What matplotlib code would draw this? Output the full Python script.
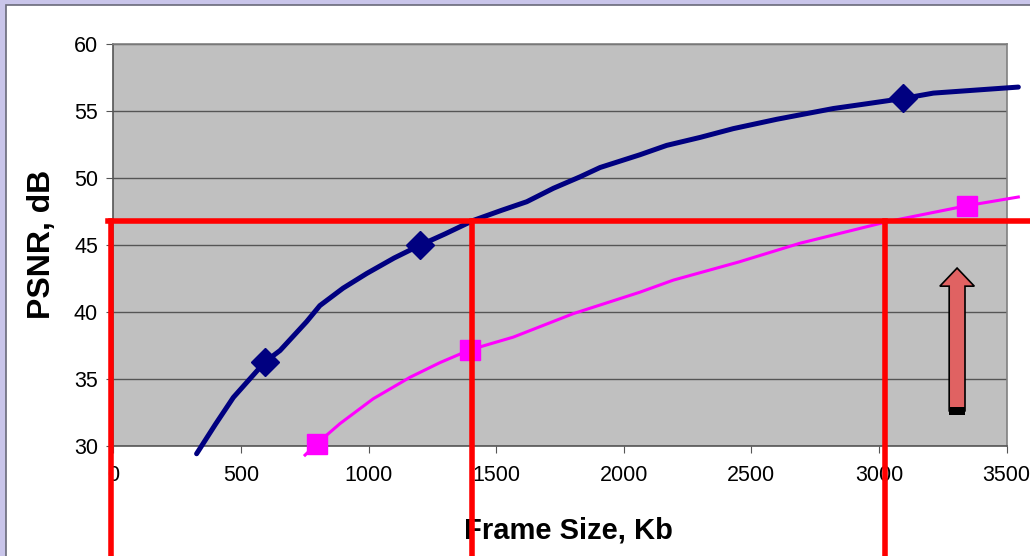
import matplotlib
matplotlib.use("Agg")
import matplotlib.pyplot as plt
from matplotlib.patches import Rectangle, FancyArrow

plt.rcParams['font.family'] = ['Liberation Sans', 'DejaVu Sans']

# Blue series (diamond markers) - frame size (Kb) vs PSNR (dB)
blue_x = [326, 400, 470, 594, 653, 757, 809, 900, 993, 1100, 1201, 1300, 1410, 1520, 1620,
          1724, 1828, 1907, 2063, 2168, 2300, 2429, 2600, 2821, 2950, 3095, 3213, 3546]
blue_y = [29.4, 31.6, 33.6, 36.25, 37.1, 39.25, 40.45, 41.75, 42.85, 44.0, 44.95, 45.8, 46.8, 47.55, 48.2,
          49.2, 50.05, 50.75, 51.7, 52.4, 53.0, 53.65, 54.35, 55.15, 55.5, 55.9, 56.3, 56.75]
blue_mark_x = [594, 1201, 3095]
blue_mark_y = [36.25, 44.95, 55.9]

# Magenta series (square markers)
mag_x = [751, 797, 888, 1018, 1162, 1280, 1397, 1567, 1802, 2063, 2194, 2450, 2690, 3030, 3344, 3546]
mag_y = [29.3, 30.15, 31.65, 33.5, 35.1, 36.2, 37.15, 38.1, 39.85, 41.45, 42.35, 43.7, 45.1, 46.7, 47.9, 48.55]
mag_mark_x = [797, 1397, 3344]
mag_mark_y = [30.15, 37.15, 47.9]

# Red reference lines
ref_psnr = 46.75
ref_x = [-9, 1405, 3023]

x_ticks = [0, 500, 1000, 1500, 2000, 2500, 3000, 3500]
y_ticks = [30, 35, 40, 45, 50, 55, 60]

fig = plt.figure(figsize=(10.3, 5.56), dpi=100)
fig.patch.set_facecolor('#c9c5ea')
fig.patches.append(Rectangle((6/1030, -0.01), 1.0, 1 - 5/556 + 0.01, transform=fig.transFigure,
                             facecolor='white', edgecolor='#6a6a7a', linewidth=1.2, zorder=-10))

ax = fig.add_axes([113.4/1030, 1 - 445.7/556, (1006.6 - 113.4)/1030, (445.7 - 43.5)/556])
ax.set_zorder(1)
ax.set_facecolor('#c0c0c0')
ax.set_xlim(0, 3500)
ax.set_ylim(30, 60)
ax.set_xticks(x_ticks)
ax.set_yticks(y_ticks)
ax.yaxis.grid(True, color='#555555', linewidth=1.0)
ax.set_axisbelow(True)
for s in ax.spines.values():
    s.set_color('#808080')
    s.set_linewidth(1.2)
ax.spines['left'].set_color('#555555')
ax.spines['bottom'].set_color('#555555')
ax.tick_params(axis='both', direction='out', length=5, color='#555555', labelsize=15.5)
ax.tick_params(axis='x', pad=9)
ax.tick_params(axis='y', pad=6)

ax.plot(blue_x, blue_y, color='#000080', linewidth=3.6, clip_on=False, zorder=3,
        solid_capstyle='round', solid_joinstyle='round')
ax.plot(blue_mark_x, blue_mark_y, linestyle='none', marker='D', markersize=14,
        color='#000080', clip_on=False, zorder=4)
ax.plot(mag_x, mag_y, color='#ff00ff', linewidth=2.2, clip_on=False, zorder=3,
        solid_joinstyle='round')
ax.plot(mag_mark_x, mag_mark_y, linestyle='none', marker='s', markersize=14,
        color='#ff00ff', clip_on=False, zorder=4)

# Red overlay lines
ax.plot([-21, 3600], [ref_psnr, ref_psnr], color='red', linewidth=4, clip_on=False, zorder=5)
for xv in ref_x:
    ax.plot([xv, xv], [ref_psnr, 21.0], color='red', linewidth=4, clip_on=False, zorder=5)

# Up arrow
arr = FancyArrow(3306, 32.6, 0, 10.65, width=62, head_width=135, head_length=1.35,
                 length_includes_head=True, facecolor='#e06262', edgecolor='black',
                 linewidth=1.2, zorder=6)
ax.add_patch(arr)
ax.add_patch(Rectangle((3306 - 31, 32.3), 62, 0.55, facecolor='black', edgecolor='none', zorder=7))

ax.set_xlabel('Frame Size, Kb', fontsize=21, fontweight='bold', labelpad=20)
ax.xaxis.set_label_coords(0.51, -0.175)
ax.set_ylabel('PSNR, dB', fontsize=23, fontweight='bold', labelpad=12)

fig.savefig('out.png', dpi=100, facecolor=fig.get_facecolor())
